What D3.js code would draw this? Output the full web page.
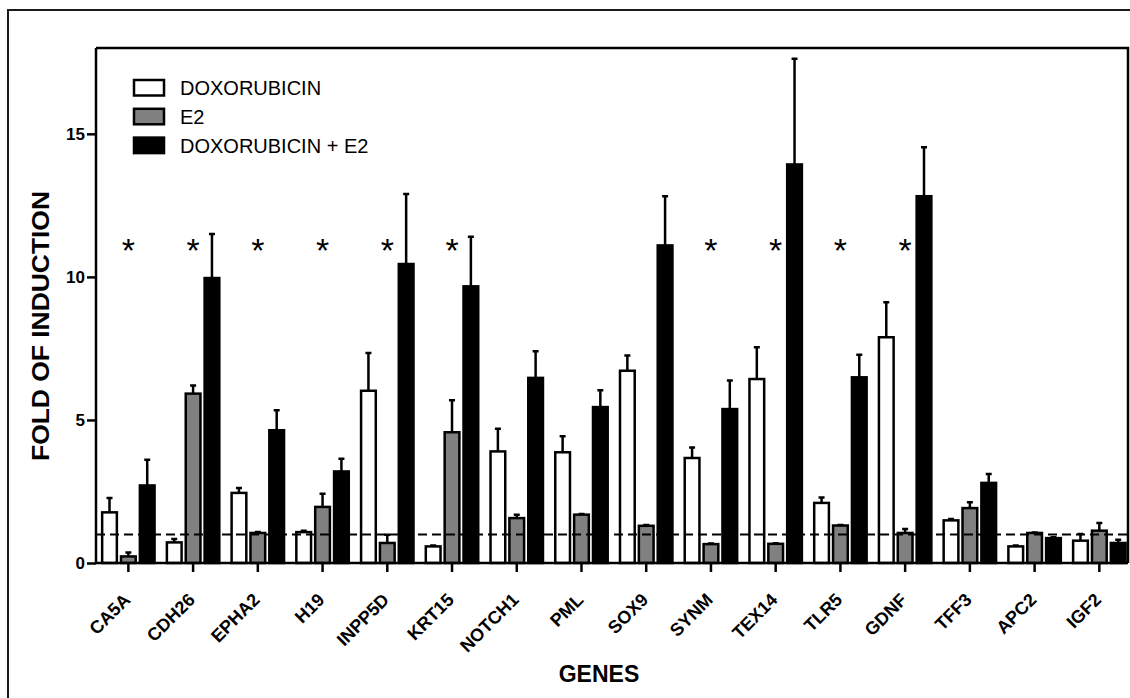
<!DOCTYPE html>
<html>
<head>
<meta charset="utf-8">
<script src="https://cdn.jsdelivr.net/npm/d3@7"></script>
<style>
  body { margin: 0; background: #fff; }
  svg { display: block; }
  text { font-family: "Liberation Sans", Arial, sans-serif; fill: #000; }
</style>
</head>
<body>
<div id="chart"></div>
<script>
var genes = ["CA5A", "CDH26", "EPHA2", "H19", "INPP5D", "KRT15", "NOTCH1", "PML", "SOX9", "SYNM", "TEX14", "TLR5", "GDNF", "TFF3", "APC2", "IGF2"];
var seriesNames = ["DOXORUBICIN", "E2", "DOXORUBICIN + E2"];
var doxo = [1.77, 0.72, 2.45, 1.08, 6.02, 0.58, 3.90, 3.87, 6.72, 3.67, 6.43, 2.10, 7.89, 1.49, 0.58, 0.78];
var doxoErr = [0.50, 0.12, 0.17, 0.05, 1.32, 0.03, 0.79, 0.56, 0.53, 0.37, 1.11, 0.19, 1.22, 0.05, 0.03, 0.23];
var e2 = [0.23, 5.92, 1.05, 1.96, 0.70, 4.57, 1.57, 1.69, 1.30, 0.66, 0.67, 1.31, 1.05, 1.92, 1.05, 1.13];
var e2Err = [0.14, 0.28, 0.03, 0.46, 0.29, 1.12, 0.12, 0.02, 0.03, 0.02, 0.02, 0.02, 0.14, 0.20, 0.02, 0.27];
var combo = [2.71, 9.96, 4.64, 3.20, 10.45, 9.67, 6.47, 5.45, 11.10, 5.38, 13.93, 6.49, 12.82, 2.80, 0.87, 0.70];
var comboErr = [0.90, 1.54, 0.70, 0.44, 2.45, 1.73, 0.93, 0.59, 1.72, 1.00, 3.69, 0.79, 1.71, 0.31, 0.03, 0.11];
var significant = ["CA5A", "CDH26", "EPHA2", "H19", "INPP5D", "KRT15", "SYNM", "TEX14", "TLR5", "GDNF"];
var yTicks = [0, 5, 10, 15];
var baseline = 1;

function chart() {

    var width = 1130,
        height = 698;

    var mLeft = 96, mRight = 1128, mTop = 48, mBottom = 563;

    var svg = d3.select("#chart")
        .append("svg")
        .attr("width", width)
        .attr("height", height);

    // outer frame (runs off the right and bottom of the image)
    svg.append("rect")
        .attr("x", 8).attr("y", 10)
        .attr("width", 1140).attr("height", 700)
        .attr("fill", "none")
        .attr("stroke", "#1a1a1a")
        .attr("stroke-width", 2);

    var x0 = d3.scaleBand()
        .domain(genes)
        .range([mLeft, 1131.7])
        .paddingInner(0.19)
        .paddingOuter(0.095);

    var x1 = d3.scaleBand()
        .domain(seriesNames)
        .range([0, x0.bandwidth()])
        .paddingInner(0.22);

    var y = d3.scaleLinear()
        .domain([0, 18])
        .range([mBottom, mTop]);

    var fills = ["#ffffff", "#808080", "#000000"];

    var rows = genes.map(function (g, i) {
        return {
            gene: g,
            vals: [
                { s: seriesNames[0], v: doxo[i], e: doxoErr[i] },
                { s: seriesNames[1], v: e2[i], e: e2Err[i] },
                { s: seriesNames[2], v: combo[i], e: comboErr[i] }
            ]
        };
    });

    // box lines top and right
    svg.append("path")
        .attr("d", "M" + mLeft + "," + mTop + "H" + mRight + "V" + mBottom)
        .attr("fill", "none")
        .attr("stroke", "#000")
        .attr("stroke-width", 2.5);

    var group = svg.selectAll("g.gene")
        .data(rows)
        .enter()
        .append("g")
        .attr("class", "gene")
        .attr("transform", function (d) { return "translate(" + x0(d.gene) + ",0)"; });

    // error bars (upper only)
    group.selectAll("path.err")
        .data(function (d) { return d.vals; })
        .enter()
        .append("path")
        .attr("class", "err")
        .attr("d", function (d) {
            var cx = x1(d.s) + x1.bandwidth() / 2;
            return "M" + cx + "," + y(d.v) + "V" + y(d.v + d.e) +
                "M" + (cx - 3) + "," + y(d.v + d.e) + "H" + (cx + 3);
        })
        .attr("stroke", "#000")
        .attr("stroke-width", 2.5)
        .attr("fill", "none");

    group.selectAll("rect")
        .data(function (d) { return d.vals; })
        .enter()
        .append("rect")
        .attr("x", function (d) { return x1(d.s); })
        .attr("y", function (d) { return y(d.v); })
        .attr("width", x1.bandwidth())
        .attr("height", function (d) { return y(0) - y(d.v); })
        .attr("fill", function (d, i) { return fills[i]; })
        .attr("stroke", "#000")
        .attr("stroke-width", 2.5);

    // dashed reference line at 1
    svg.append("line")
        .attr("x1", mLeft).attr("x2", mRight)
        .attr("y1", y(baseline)).attr("y2", y(baseline))
        .attr("stroke", "#000")
        .attr("stroke-width", 2)
        .attr("stroke-dasharray", "9,5");

    // asterisks
    svg.selectAll("text.star")
        .data(significant)
        .enter()
        .append("text")
        .attr("class", "star")
        .attr("x", function (d) { return x0(d) + x0.bandwidth() / 2; })
        .attr("y", y(11.2) + 19)
        .attr("text-anchor", "middle")
        .style("font-size", "34px")
        .text("*");

    // axes
    var yAxis = svg.append("g")
        .attr("transform", "translate(" + mLeft + ",0)")
        .call(d3.axisLeft(y).tickValues(yTicks).tickSize(9).tickPadding(2).tickFormat(d3.format("d")));

    var xAxis = svg.append("g")
        .attr("transform", "translate(0," + mBottom + ")")
        .call(d3.axisBottom(x0).tickSize(9).tickSizeOuter(0));

    [yAxis, xAxis].forEach(function (a) {
        a.select(".domain").attr("stroke", "#000").attr("stroke-width", 2.5);
        a.selectAll(".tick line").attr("stroke", "#000").attr("stroke-width", 2.5);
    });

    yAxis.select(".domain").attr("d", "M0," + mBottom + "V" + mTop);
    xAxis.select(".domain").attr("d", "M" + mLeft + ",0H" + mRight);

    yAxis.selectAll(".tick text")
        .style("font-size", "17px")
        .style("font-weight", "bold")
        .attr("fill", "#000");

    xAxis.selectAll(".tick text")
        .style("font-size", "18px")
        .style("font-weight", "bold")
        .attr("fill", "#000")
        .attr("text-anchor", "end")
        .attr("dy", null)
        .attr("y", null)
        .attr("transform", "translate(3,38) rotate(-45)");

    // axis titles
    svg.append("text")
        .attr("x", 599)
        .attr("y", 682)
        .attr("text-anchor", "middle")
        .style("font-size", "23px")
        .style("font-weight", "bold")
        .text("GENES");

    svg.append("text")
        .attr("transform", "translate(49,326) rotate(-90)")
        .attr("text-anchor", "middle")
        .attr("textLength", 270)
        .attr("lengthAdjust", "spacingAndGlyphs")
        .style("font-size", "23px")
        .style("font-weight", "bold")
        .text("FOLD OF INDUCTION");

    // legend
    var legend = svg.append("g")
        .attr("class", "legend")
        .attr("transform", "translate(134,80)");

    legend.selectAll("rect")
        .data(seriesNames)
        .enter()
        .append("rect")
        .attr("x", 0)
        .attr("y", function (d, i) { return i * 28.8; })
        .attr("width", 30)
        .attr("height", 15.5)
        .attr("fill", function (d, i) { return fills[i]; })
        .attr("stroke", "#000")
        .attr("stroke-width", 2.5);

    legend.selectAll("text")
        .data(seriesNames)
        .enter()
        .append("text")
        .attr("x", 46)
        .attr("y", function (d, i) { return i * 28.8 + 15; })
        .style("font-size", "20px")
        .text(function (d) { return d; });
}

chart();
</script>
</body>
</html>
